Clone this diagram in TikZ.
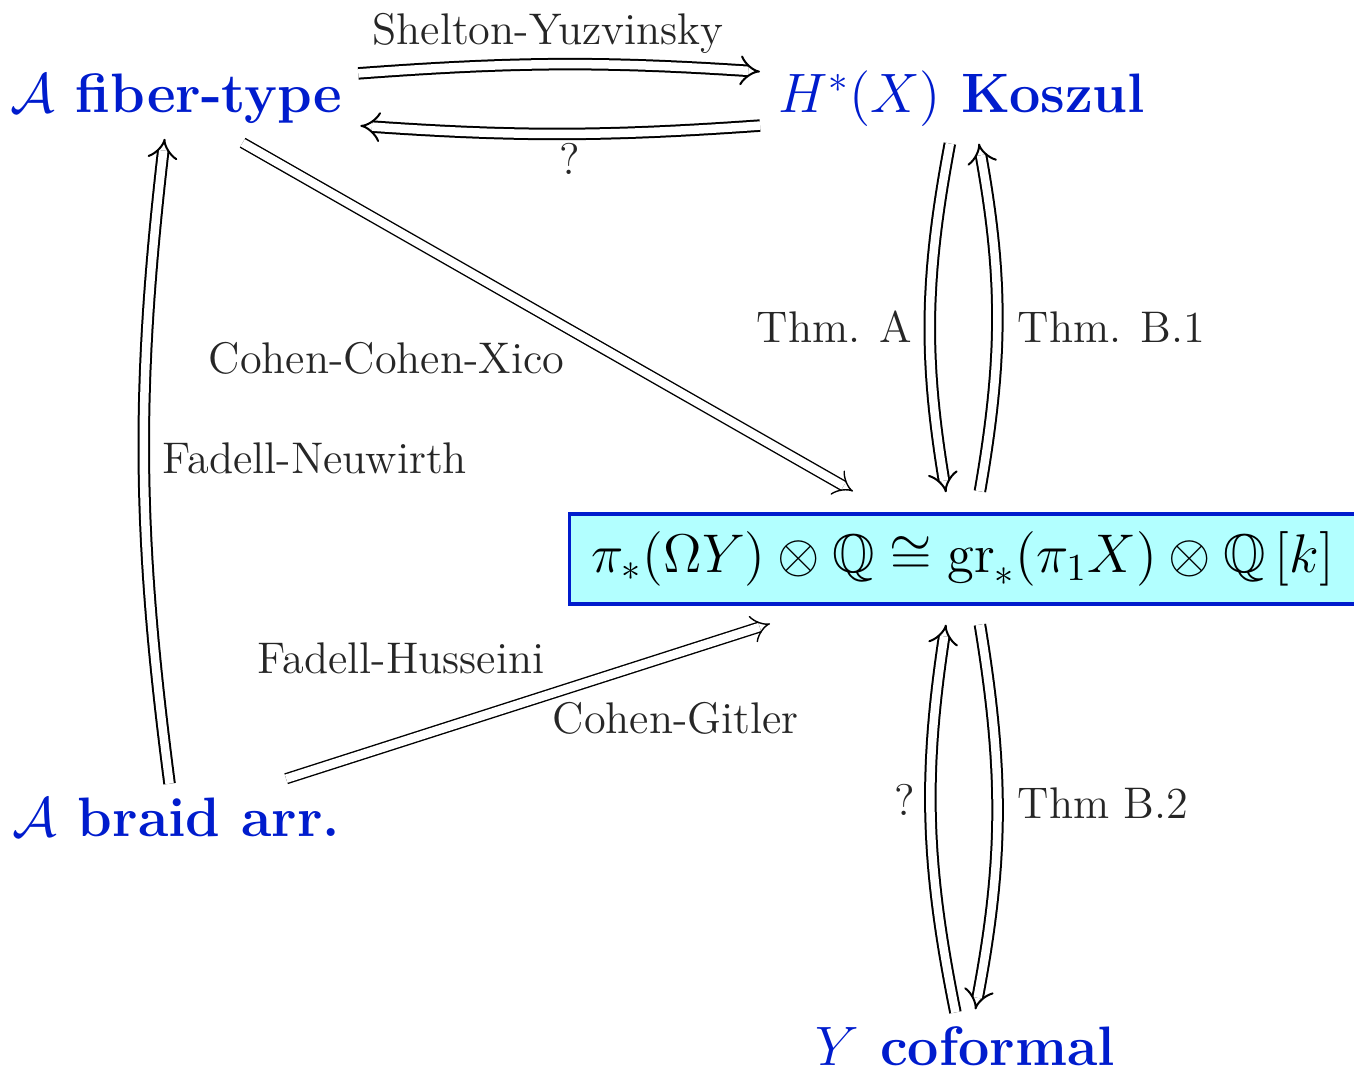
\RequirePackage{fix-cm}
\documentclass[tikz,border=0pt]{standalone}
\usepackage{amsmath,amssymb}
\usepackage{xcolor}
\usepackage{tikz}
\usetikzlibrary{arrows.meta,calc}
\DeclareFontFamily{U}{msb}{}
\DeclareFontShape{U}{msb}{m}{n}{<-6> msbm5 <6-8> msbm7 <8-> msbm10}{}
\definecolor{thmblue}{RGB}{0,28,205}
\definecolor{boxcyan}{RGB}{178,255,255}

\begin{document}
\begin{tikzpicture}[
    x=0.01cm, y=-0.01cm,
    statement/.style={text=thmblue, inner sep=0pt, font=\fontsize{15.8}{19}\selectfont\bfseries},
    result/.style={rectangle, draw=thmblue, fill=boxcyan, line width=0.033cm, inner xsep=0.22cm, minimum height=0.9cm, font=\fontsize{15.5}{19}\selectfont},
    ref/.style={text=black!85, inner sep=0pt, font=\fontsize{12.6}{15}\selectfont},
    imp/.style={double, double distance=0.085cm, line width=0.02cm, -{Implies[length=0.24cm, width=0.32cm]}},
    impthin/.style={imp, line width=0.014cm}
    ]
    \useasboundingbox (0,0) rectangle (1354,1071);

    % Enunciados
    \node[statement, anchor=base west] (fib) at (10,113) {$\mathcal{A}$ fiber-type};
    \node[statement, anchor=base west] (kos) at (778,113) {$H^*(X)$ Koszul};
    \node[statement, anchor=base west] (brd) at (12,837) {$\mathcal{A}$ braid arr.};
    \node[statement, anchor=base west] (cof) at (815,1066) {$Y$ coformal};

    % Resultado central
    \node[result, anchor=west] (res) at (568,559)
        {$\pi_*(\Omega Y)\otimes\mathbb{Q}\cong\mathrm{gr}_*(\pi_1X)\otimes\mathbb{Q}\,[k]$};

    % Flechas superiores
    \draw[imp, bend left=4] ($(fib.north east)+(15,0)$) to ($(kos.north west)+(-18,1)$);
    \draw[imp, bend left=4] ($(kos.south west)+(-18,-2)$) to ($(fib.south east)+(17,1)$);

    % Flechas de Koszul al resultado
    \draw[imp, bend right=10] ($(kos.south)+(-12,16)$) to ($(res.north)+(-17,-20)$);
    \draw[imp, bend right=10] ($(res.north)+(17,-21)$) to ($(kos.south)+(17,16)$);

    % Flechas de coformal
    \draw[imp, bend left=10] ($(cof.north)+(-10,-14)$) to ($(res.south)+(-17,19)$);
    \draw[imp, bend left=10] ($(res.south)+(17,19)$) to ($(cof.north)+(10,-17)$);

    % Flechas de la izquierda
    \draw[imp, bend left=7] ($(brd.north)+(-7,-14)$) to ($(fib.south)+(-12,14)$);
    \draw[impthin] ($(fib.south)+(66,18)$) -- ($(res.north west)+(285,-21)$);
    \draw[impthin] ($(brd.north east)+(-55,-19)$) -- ($(res.south west)+(202,18)$);

    % Referencias
    \node[ref, anchor=base] at (548,45) {Shelton-Yuzvinsky};
    \node[ref, anchor=base] at (570,175) {?};
    \node[ref, anchor=base east] at (913,343) {Thm. A};
    \node[ref, anchor=base west] at (1017,343) {Thm. B.1};
    \node[ref, anchor=base west] at (208,374) {Cohen-Cohen-Xico};
    \node[ref, anchor=base west] at (162,474) {Fadell-Neuwirth};
    \node[ref, anchor=base west] at (257,674) {Fadell-Husseini};
    \node[ref, anchor=base west] at (552,734) {Cohen-Gitler};
    \node[ref, anchor=base] at (905,816) {?};
    \node[ref, anchor=base west] at (1017,819) {Thm B.2};

\end{tikzpicture}
\end{document}
